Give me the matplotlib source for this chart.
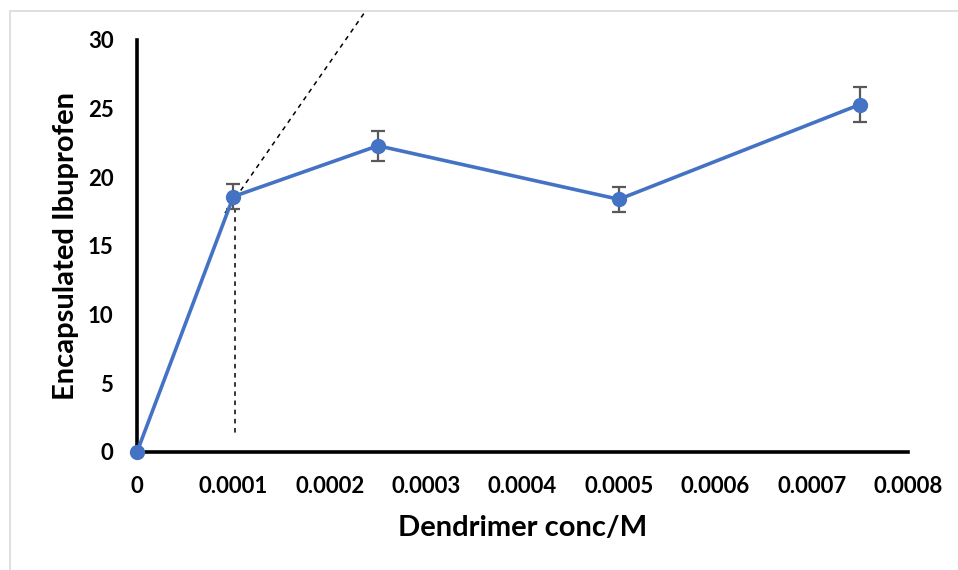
import matplotlib
matplotlib.use('Agg')
import matplotlib.pyplot as plt
from matplotlib.patches import Rectangle

conc = [0, 0.0001, 0.00025, 0.0005, 0.00075]
ibuprofen = [0, 18.6, 22.3, 18.4, 25.3]
err = [0, 0.9, 1.1, 0.9, 1.25]

# tangent (dotted) guide and drop line at the break point
tangent_x = [0.0000913, 0.0002366]
tangent_y = [17.4, 32.05]
drop_x = [0.000102, 0.000102]
drop_y = [17.8, 1.1]

plt.rcParams['font.family'] = ['Lato', 'DejaVu Sans']
plt.rcParams['font.weight'] = 'bold'

fig = plt.figure(figsize=(9.58, 5.7), dpi=100)
fig.patches.append(Rectangle((10 / 958, -0.1), 1.2, 1 - 11 / 570 + 0.1, transform=fig.transFigure,
                             fill=False, edgecolor='#d9d9d9', linewidth=1.2))
ax = fig.add_axes([137 / 958, 118 / 570, 771 / 958, 412 / 570])

ax.plot(tangent_x, tangent_y, color='black', linestyle=(0, (3, 3)), linewidth=1.1, clip_on=False, zorder=2)
ax.plot(drop_x, drop_y, color='black', linestyle=(0, (3, 3)), linewidth=1.1, zorder=2)

ax.errorbar(conc, ibuprofen, yerr=err, color='#4472C4', linewidth=2.6, marker='o', markersize=10,
            ecolor='#595959', elinewidth=1.6, capsize=5, capthick=1.6, zorder=3, clip_on=False)

ax.set_xlim(0, 0.0008)
ax.set_ylim(0, 30)
ax.set_xticks([0, 0.0001, 0.0002, 0.0003, 0.0004, 0.0005, 0.0006, 0.0007, 0.0008])
ax.set_xticklabels(['0', '0.0001', '0.0002', '0.0003', '0.0004', '0.0005', '0.0006', '0.0007', '0.0008'])
ax.set_yticks([0, 5, 10, 15, 20, 25, 30])
ax.tick_params(length=0, labelsize=16, pad=17)
ax.tick_params(axis='y', pad=17)

for s in ['top', 'right']:
    ax.spines[s].set_visible(False)
for s in ['left', 'bottom']:
    ax.spines[s].set_linewidth(2.6)

ax.set_xlabel('Dendrimer conc/M', fontsize=21, fontweight='bold', labelpad=13)
ax.set_ylabel('Encapsulated Ibuprofen', fontsize=21, fontweight='bold', labelpad=6)

fig.savefig('out.png', dpi=100)
